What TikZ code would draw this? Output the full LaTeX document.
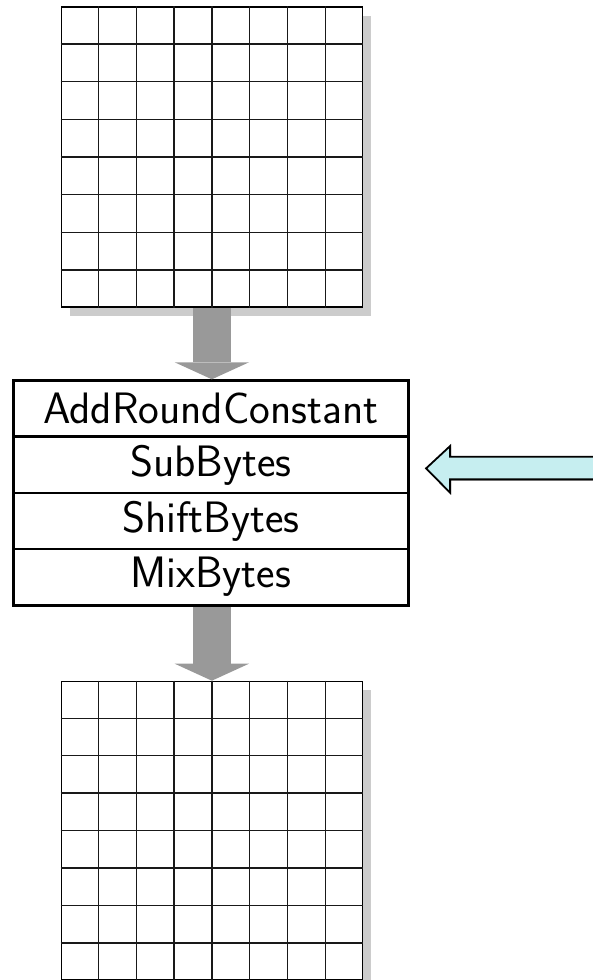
\documentclass[tikz,border=0pt]{standalone}
\usetikzlibrary{arrows.meta,calc,shadows}
\definecolor{shadowgray}{HTML}{CCCCCC}
\definecolor{flowgray}{HTML}{999999}
\definecolor{feedcyan}{HTML}{C6EEF0}
\begin{document}
\begin{tikzpicture}[x=1pt,y=-1pt,
  statebox/.style={draw=black, line width=1.3pt, fill=white,
    minimum width=301pt, minimum height=300pt, inner sep=0pt, anchor=north west,
    general shadow={fill=shadowgray, shadow xshift=9pt, shadow yshift=-9pt}},
  gridline/.style={draw=black!90, line width=1.3pt},
  rowbox/.style={draw=black, line width=2.8pt, fill=white,
    minimum width=395pt, minimum height=56.1pt, inner sep=0pt,
    font=\sffamily\fontsize{44}{46}\selectfont},
  flowarrow/.style={draw=flowgray, line width=37.3pt,
    -{Triangle[length=17pt,width=74.3pt,line width=0pt]}},
  feedarrow/.style={draw=black, line width=1.8pt, fill=feedcyan, line join=miter,
    general shadow={fill=black!30, shadow xshift=1pt, shadow yshift=-1.6pt}}
]
\useasboundingbox (0,0) rectangle (592,980);

% input state: 8x8 byte grid
\node[statebox] (gin) at (60.7,6.3) {};
\foreach \i in {1,...,7} {
  \draw[gridline] ($(gin.north west)!\i/8!(gin.north east)$) -- ($(gin.south west)!\i/8!(gin.south east)$);
  \draw[gridline] ($(gin.north west)!\i/8!(gin.south west)$) -- ($(gin.north east)!\i/8!(gin.south east)$);
}

% round transformations
\node[rowbox] (arc) at (210.8,408.75) {AddRoundConstant};
\node[rowbox] (sub) at (210.8,464.85) {SubBytes};
\node[rowbox] (shb) at (210.8,520.95) {ShiftBytes};
\node[rowbox] (mix) at (210.8,577.05) {MixBytes};

% output state: 8x8 byte grid
\node[statebox, minimum height=298.4pt] (gout) at (60.7,680.7) {};
\foreach \i in {1,...,7} {
  \draw[gridline] ($(gout.north west)!\i/8!(gout.north east)$) -- ($(gout.south west)!\i/8!(gout.south east)$);
  \draw[gridline] ($(gout.north west)!\i/8!(gout.south west)$) -- ($(gout.north east)!\i/8!(gout.south east)$);
}

% data flow
\draw[flowarrow] (gin.south) -- (gin.south |- arc.north);
\draw[flowarrow] (gin.south |- mix.south) -- (gout.north);

% incoming arrow pointing at the round
\coordinate (feedtip) at ([xshift=16.4pt,yshift=-3.5pt]sub.east);
\draw[feedarrow] (feedtip) -- ++(24,-22.3) -- ++(0,10.7) -- ++(160,0)
  -- ++(0,22.6) -- ++(-160,0) -- ++(0,13.4) -- cycle;
\end{tikzpicture}
\end{document}
